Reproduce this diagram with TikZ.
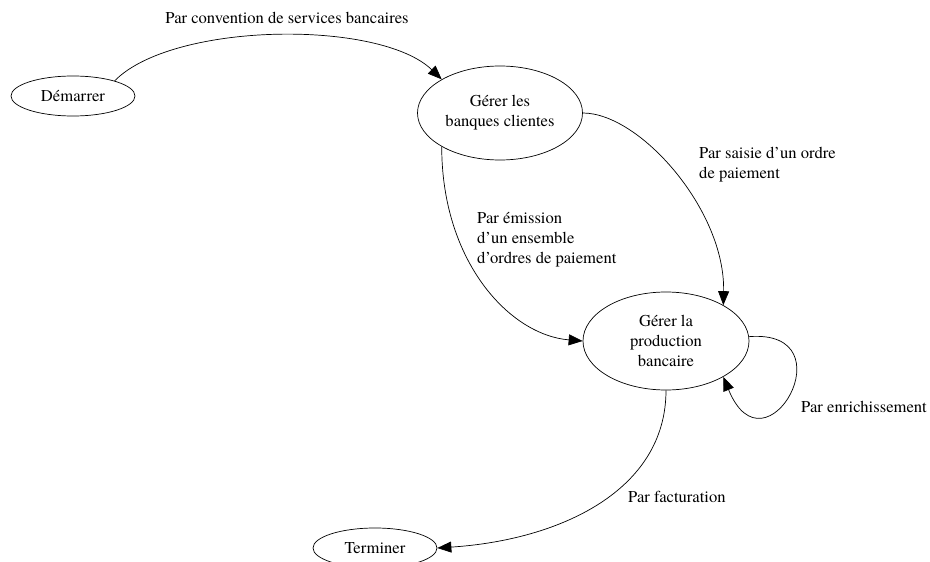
\documentclass[tikz,border=0pt]{standalone}
\usepackage{fontspec}
\setmainfont{TeX Gyre Termes}
\usetikzlibrary{shapes.geometric,arrows.meta}

\begin{document}
\begin{tikzpicture}[x=1pt,y=-1pt,
    etat/.style={ellipse, draw, line width=0.7pt, inner sep=0pt, align=center,
        font=\fontsize{16.6}{20}\selectfont},
    lbl/.style={inner sep=0pt, align=left, font=\fontsize{16.6}{20}\selectfont},
    fleche/.style={line width=0.7pt, -{Triangle[length=14pt,width=11pt]}}]

    \useasboundingbox (0,0) rectangle (930,562);

    % etats
    \node[etat, minimum width=124pt, minimum height=40pt] (demarrer) at (73,96) {Démarrer};
    \node[etat, minimum width=165pt, minimum height=94pt] (banques) at (500,113) {Gérer les\\banques clientes};
    \node[etat, minimum width=166pt, minimum height=98pt] (production) at (666,341) {Gérer la\\production\\bancaire};
    \node[etat, minimum width=124pt, minimum height=40pt] (terminer) at (375,548) {Terminer};

    % transitions
    \draw[fleche] (demarrer.20) .. controls +(58,-59) and +(-62,-60) .. (banques.150);
    \draw[fleche] (banques.east) .. controls +(57,0) and +(2,-95) .. (production.32);
    \draw[fleche] (banques.210) .. controls +(0,115) and +(-73,-6) .. (production.west);
    \draw[fleche] (production.3) .. controls +(101,-8) and +(42,103) .. (production.-32);
    \draw[fleche] (production.south) .. controls +(0,100) and +(123,-8) .. (terminer.east);

    % libelles
    \node[lbl] (lconvention) at (287,18) {Par convention de services bancaires};
    \node[lbl, anchor=west] (lsaisie) at (699,165) {Par saisie d’un ordre\\de paiement};
    \node[lbl, anchor=west] (lemission) at (477,240) {Par émission\\d’un ensemble\\d’ordres de paiement};
    \node[lbl, anchor=west] (lenrichi) at (801,407) {Par enrichissement};
    \node[lbl, anchor=west] (lfactu) at (628,497) {Par facturation};
\end{tikzpicture}
\end{document}
